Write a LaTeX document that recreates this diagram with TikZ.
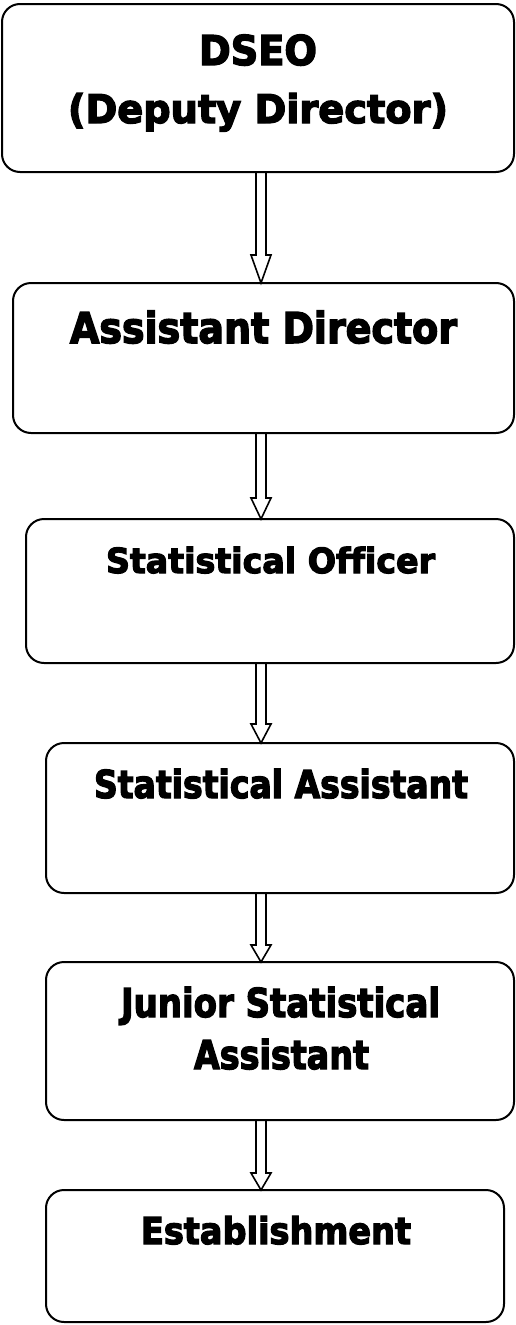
\documentclass[tikz,border=0pt]{standalone}
\usepackage{fontspec}
\setmainfont{DejaVu Sans}
\newfontfamily\heavyfont{DejaVu Sans Bold}[FakeBold=3.5, Ligatures=CommonOff]
\usepackage{graphicx}
\usetikzlibrary{calc}
\newlength\fitlen
\newcommand{\fitw}[3]{% #1 font size, #2 target width (pt), #3 text
  \fontsize{#1}{#1}\heavyfont
  \settowidth{\fitlen}{#3}%
  \pgfmathsetmacro\fitfac{#2/\fitlen}%
  \scalebox{\fitfac}[1]{#3}}
\newcommand{\harrow}[3]{% #1 head length, #2 from node, #3 to node
  \draw[arrowline] let \p1=(#2.south), \p2=(#3.north) in
    (256pt,\y1) -- (256pt,\y2+#1pt) -- (251pt,\y2+#1pt) -- (261pt,\y2)
    -- (271pt,\y2+#1pt) -- (266pt,\y2+#1pt) -- (266pt,\y1);}
\tikzset{
  box/.style={draw=black, line width=2pt, rectangle, rounded corners=18pt,
    inner sep=0pt, outer sep=0pt, fill=white},
  lbl/.style={anchor=base, inner sep=0pt, outer sep=0pt, text=black},
  arrowline/.style={draw=black, line width=1.6pt, line join=miter}
}
\begin{document}
\begin{tikzpicture}[x=1pt, y=-1pt]
\fill[white] (0,0) rectangle (516,1325);
\useasboundingbox (0,0) rectangle (516,1325);
% boxes
\node[box, minimum width=512pt, minimum height=168pt] (b1) at (258,88) {};
\node[box, minimum width=501pt, minimum height=150pt] (b2) at (263.5,358) {};
\node[box, minimum width=488pt, minimum height=144pt] (b3) at (270,591) {};
\node[box, minimum width=468pt, minimum height=150pt] (b4) at (280,818) {};
\node[box, minimum width=468pt, minimum height=158pt] (b5) at (280,1041) {};
\node[box, minimum width=458pt, minimum height=132pt] (b6) at (275,1256) {};
% labels
\node[lbl] (t1a) at (258,65) {\fitw{41}{118}{DSEO}};
\node[lbl] (t1b) at (258,123) {\fitw{39.5}{380}{(Deputy Director)}};
\node[lbl] (t2) at (263.5,343) {\fitw{42.5}{387}{Assistant Director}};
\node[lbl] (t3) at (270.5,573) {\fitw{34.5}{329}{Statistical Officer}};
\node[lbl] (t4) at (281,798) {\fitw{38.4}{374}{Statistical Assistant}};
\node[lbl] (t5a) at (280.5,1017) {\fitw{39.8}{319}{Junior Statistical}};
\node[lbl] (t5b) at (281.5,1069) {\fitw{39.8}{175}{Assistant}};
\node[lbl] (t6) at (276,1244) {\fitw{37}{270}{Establishment}};
% arrows
\harrow{28}{b1}{b2}
\harrow{21}{b2}{b3}
\harrow{19}{b3}{b4}
\harrow{17}{b4}{b5}
\harrow{17}{b5}{b6}
\end{tikzpicture}
\end{document}
